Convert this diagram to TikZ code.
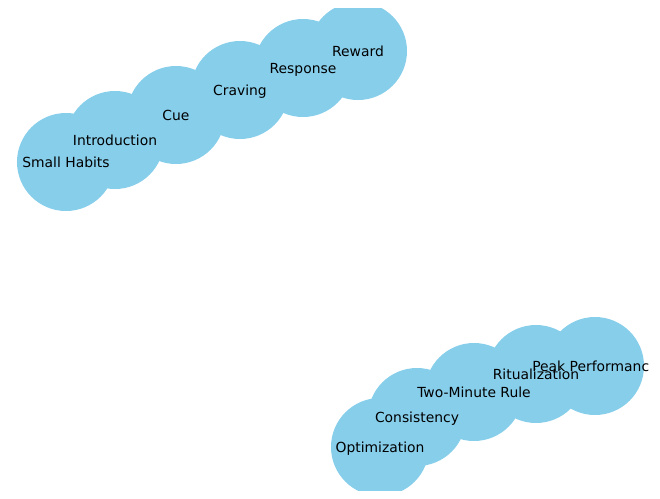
\documentclass[tikz,border=0pt]{standalone}
\usepackage{fontspec}
\setmainfont{DejaVu Sans}
\definecolor{skyblue}{RGB}{135,206,235}

\begin{document}
\begin{tikzpicture}[x=0.72pt,y=-0.72pt,
  main node/.style={circle,fill=skyblue,minimum size=70.56pt,inner sep=0pt},
  text node/.style={inner sep=0pt,text height=7.3pt,text depth=0pt,
    font=\fontsize{10}{12}\selectfont}]

  \useasboundingbox (0,0) rectangle (660,499);

  \begin{scope}
  \clip (8,8) rectangle (648,490);

  % first chain
  \node[main node] (SH) at (66,162)  {};
  \node[main node] (In) at (115,140) {};
  \node[main node] (Cu) at (176,115) {};
  \node[main node] (Cr) at (240,90)  {};
  \node[main node] (Rs) at (303,68)  {};
  \node[main node] (Rw) at (358,51)  {};

  % second chain
  \node[main node] (Op) at (380,447) {};
  \node[main node] (Co) at (417,417) {};
  \node[main node] (TM) at (474,392) {};
  \node[main node] (Ri) at (536,374) {};
  \node[main node] (PP) at (595,366) {};

  % labels
  \node[text node] (SH-t) at (SH) {Small Habits};
  \node[text node] (In-t) at (In) {Introduction};
  \node[text node] (Cu-t) at (Cu) {Cue};
  \node[text node] (Cr-t) at (Cr) {Craving};
  \node[text node] (Rs-t) at (Rs) {Response};
  \node[text node] (Rw-t) at (Rw) {Reward};

  \node[text node] (Op-t) at (Op) {Optimization};
  \node[text node] (Co-t) at (Co) {Consistency};
  \node[text node] (TM-t) at (TM) {Two-Minute Rule};
  \node[text node] (Ri-t) at (Ri) {Ritualization};
  \node[text node] (PP-t) at (PP) {Peak Performance};
  \end{scope}

\end{tikzpicture}
\end{document}
